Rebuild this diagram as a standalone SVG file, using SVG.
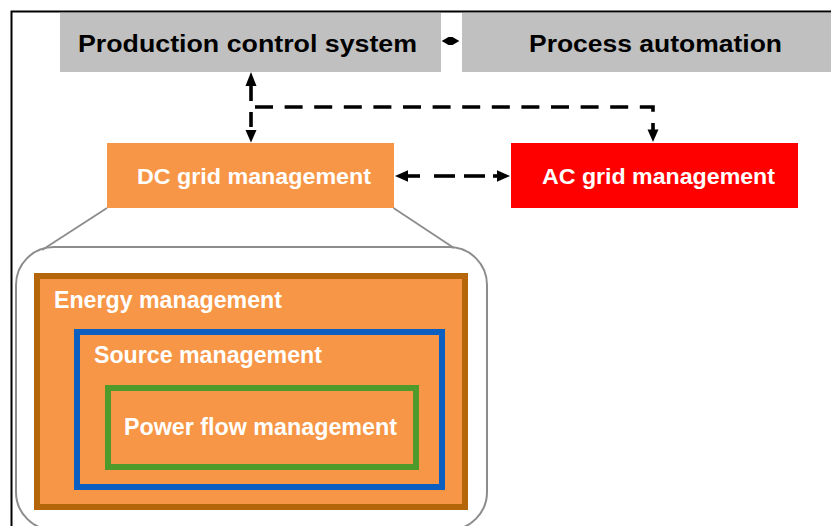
<svg xmlns="http://www.w3.org/2000/svg" width="831" height="526" viewBox="0 0 831 526">
  <style>
    .gray { fill: #C0C0C0; }
    .dark { font-family: "Liberation Sans", Arial, sans-serif; font-weight: bold; fill: #000; }
    .light { font-family: "Liberation Sans", Arial, sans-serif; font-weight: bold; fill: #FFFFFF; }
    .dash { fill: none; stroke: #000; stroke-width: 3.6; }
    .head { fill: #000; }
    .callout { fill: none; stroke: #8C8C8C; stroke-width: 1.8; }
  </style>

  <rect x="0" y="0" width="831" height="526" fill="#FFFFFF"/>

  <!-- outer frame -->
  <path d="M11.5,527 L11.5,11.5 L832,11.5" fill="none" stroke="#000" stroke-width="2"/>

  <g id="production-control">
    <rect class="gray" x="60" y="13" width="381" height="59"/>
    <text class="dark" x="78" y="52" font-size="23" textLength="339" lengthAdjust="spacingAndGlyphs">Production control system</text>
  </g>

  <g id="process-automation">
    <rect class="gray" x="462" y="13" width="370" height="59"/>
    <text class="dark" x="529" y="52" font-size="23" textLength="253" lengthAdjust="spacingAndGlyphs">Process automation</text>
  </g>

  <g id="dc-grid">
    <rect x="107" y="143" width="287" height="65" fill="#F79646"/>
    <text class="light" x="137" y="184" font-size="22" textLength="234" lengthAdjust="spacingAndGlyphs">DC grid management</text>
  </g>

  <g id="ac-grid">
    <rect x="511" y="143" width="287" height="65" fill="#FF0000"/>
    <text class="light" x="542" y="184" font-size="22" textLength="233" lengthAdjust="spacingAndGlyphs">AC grid management</text>
  </g>

  <!-- magnified view of the DC grid management -->
  <g id="dc-grid-detail">
    <path class="callout" d="M107,208 L42,250"/>
    <path class="callout" d="M393.5,208 L454,248"/>
    <rect x="16" y="247" width="471" height="283" rx="38" ry="38" fill="none" stroke="#8C8C8C" stroke-width="2"/>

    <g id="energy-management">
      <rect x="37" y="276" width="428" height="231" fill="#F79646" stroke="#B5660B" stroke-width="6"/>
      <text class="light" x="54" y="308" font-size="23" textLength="228" lengthAdjust="spacingAndGlyphs">Energy management</text>
    </g>
    <g id="source-management">
      <rect x="77" y="332" width="365" height="155" fill="#F79646" stroke="#0B5FC0" stroke-width="6"/>
      <text class="light" x="94" y="363" font-size="23" textLength="228" lengthAdjust="spacingAndGlyphs">Source management</text>
    </g>
    <g id="power-flow-management">
      <rect x="108" y="388" width="308" height="79" fill="#F79646" stroke="#4E9A2B" stroke-width="6"/>
      <text class="light" x="124" y="435" font-size="23" textLength="273" lengthAdjust="spacingAndGlyphs">Power flow management</text>
    </g>
  </g>

  <g id="connectors">
    <!-- production control system <-> process automation -->
    <polygon class="head" points="441.7,41 448.5,37 452.5,37 459.3,41 452.5,45 448.5,45"/>

    <!-- up to the production control system -->
    <line x1="251" y1="84" x2="251" y2="101" stroke="#000" stroke-width="3.6"/>
    <polygon class="head" points="251,72 245.5,86 256.5,86"/>

    <!-- down to the DC grid management -->
    <line class="dash" x1="251" y1="112" x2="251" y2="127"/>
    <polygon class="head" points="251,142.5 245.5,130 256.5,130"/>

    <!-- branch to the AC grid management -->
    <path class="dash" d="M255,107 L653,107 L653,112" stroke-dasharray="18 11.6"/>
    <line x1="653" y1="123" x2="653" y2="131" stroke="#000" stroke-width="3.6"/>
    <polygon class="head" points="653,142 647.5,129.5 658.5,129.5"/>

    <!-- DC grid management <-> AC grid management -->
    <line x1="405" y1="176" x2="420" y2="176" stroke="#000" stroke-width="3.6"/>
    <line x1="434" y1="176" x2="455" y2="176" stroke="#000" stroke-width="3.6"/>
    <line x1="464" y1="176" x2="485" y2="176" stroke="#000" stroke-width="3.6"/>
    <line x1="493" y1="176" x2="500" y2="176" stroke="#000" stroke-width="3.6"/>
    <polygon class="head" points="395,176 408,170.3 408,181.7"/>
    <polygon class="head" points="510,176 497,170.3 497,181.7"/>
  </g>
</svg>
